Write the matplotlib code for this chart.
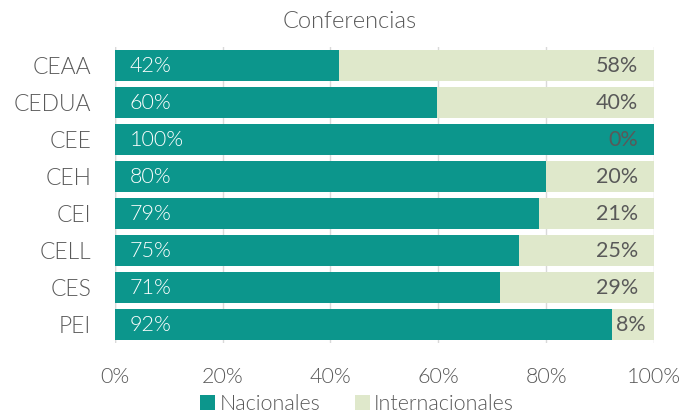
import matplotlib.pyplot as plt
from matplotlib.ticker import FuncFormatter

categories = ["CEAA", "CEDUA", "CEE", "CEH", "CEI", "CELL", "CES", "PEI"]
nacionales = [41.6, 59.7, 100.0, 80.0, 78.6, 75.0, 71.4, 92.3]
internacionales = [58.4, 40.3, 0.0, 20.0, 21.4, 25.0, 28.6, 7.7]
nac_labels = ["42%", "60%", "100%", "80%", "79%", "75%", "71%", "92%"]
int_labels = ["58%", "40%", "0%", "20%", "21%", "25%", "29%", "8%"]

TEAL = "#0C968C"
LIGHT = "#DFE8CB"
GRAY = "#595959"
LW = 300

plt.rcParams['font.family'] = ['Lato', 'DejaVu Sans']

fig = plt.figure(figsize=(6.92, 4.17), dpi=100)
ax = fig.add_axes([0.166, 0.177, 0.779, 0.71])

y = list(range(len(categories)))
ax.barh(y, nacionales, height=0.84, color=TEAL, label="Nacionales", zorder=2)
ax.barh(y, internacionales, left=nacionales, height=0.84, color=LIGHT,
        label="Internacionales", zorder=2)

for i in y:
    ax.text(2.8, i, nac_labels[i], color="white", va="center", ha="left",
            fontsize=15.5, fontweight=LW)
    # small segments: label starts just after the teal bar
    if 0 < internacionales[i] < 10:
        ax.text(nacionales[i] + 0.7, i, int_labels[i], color=GRAY,
                va="center", ha="left", fontsize=15.5)
    else:
        ax.text(97, i, int_labels[i], color=GRAY, va="center", ha="right",
                fontsize=15.5)

ax.set_xlim(0, 100)
ax.set_ylim(len(categories) - 0.5, -0.5)
ax.set_yticks(y)
ax.set_yticklabels(categories, fontsize=16.5)
ax.set_xticks([0, 20, 40, 60, 80, 100])
ax.xaxis.set_major_formatter(FuncFormatter(lambda v, p: f"{v:.0f}%"))
ax.tick_params(length=0, labelcolor=GRAY)
ax.tick_params(axis="x", pad=17, labelsize=15.5)
ax.tick_params(axis="y", pad=17)
for lbl in ax.get_xticklabels() + ax.get_yticklabels():
    lbl.set_fontweight(LW)
ax.grid(axis="x", color="#D9D9D9", linewidth=1, zorder=0)
for s in ax.spines.values():
    s.set_visible(False)
ax.axvline(0, color="#D9D9D9", linewidth=1, zorder=1)

fig.text(0.506, 0.948, "Conferencias", fontsize=17, color=GRAY,
         fontweight=LW, ha="center", va="center")

leg = fig.legend(*ax.get_legend_handles_labels(), loc="center",
                 bbox_to_anchor=(0.516, 0.03), ncol=2, frameon=False,
                 fontsize=15.5, handlelength=0.7, handleheight=0.7,
                 handletextpad=0.2, columnspacing=1.6, borderaxespad=0)
for t in leg.get_texts():
    t.set_color(GRAY)
    t.set_fontweight(LW)

fig.savefig("out.png", dpi=100)
